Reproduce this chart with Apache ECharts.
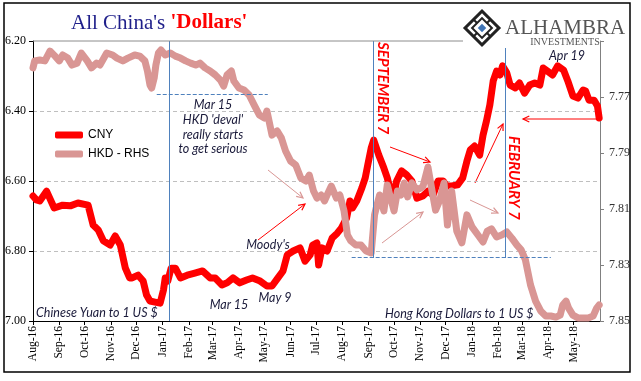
<!DOCTYPE html>
<html><head><meta charset="utf-8">
<script src="https://cdn.jsdelivr.net/npm/echarts@6/dist/echarts.min.js"></script>
<style>html,body{margin:0;padding:0;background:#fff}#c{width:641px;height:381px}</style>
</head><body><div id="c"></div>
<script>
const monthTicks = ['2016-08-01','2016-09-01','2016-10-01','2016-11-01','2016-12-01','2017-01-01','2017-02-01','2017-03-01','2017-04-01','2017-05-01','2017-06-01','2017-07-01','2017-08-01','2017-09-01','2017-10-01','2017-11-01','2017-12-01','2018-01-01','2018-02-01','2018-03-01','2018-04-01','2018-05-01'];
const monthNames = ['Jan','Feb','Mar','Apr','May','Jun','Jul','Aug','Sep','Oct','Nov','Dec'];

const cnyDates = ['2016-08-01','2016-08-05','2016-08-09','2016-08-17','2016-08-26','2016-09-05','2016-09-14','2016-09-23','2016-10-05','2016-10-11','2016-10-17','2016-10-23','2016-10-31','2016-11-06','2016-11-12','2016-11-18','2016-11-23','2016-11-26','2016-12-03','2016-12-09','2016-12-13','2016-12-17','2016-12-23','2016-12-29','2017-01-02','2017-01-04','2017-01-07','2017-01-11','2017-01-16','2017-01-22','2017-01-30','2017-02-08','2017-02-17','2017-02-26','2017-03-04','2017-03-12','2017-03-18','2017-03-25','2017-04-02','2017-04-10','2017-04-17','2017-04-26','2017-05-04','2017-05-10','2017-05-17','2017-05-23','2017-05-28','2017-06-04','2017-06-12','2017-06-18','2017-06-24','2017-06-27','2017-07-02','2017-07-04','2017-07-08','2017-07-14','2017-07-20','2017-07-26','2017-07-31','2017-08-06','2017-08-10','2017-08-13','2017-08-18','2017-08-24','2017-08-28','2017-08-31','2017-09-04','2017-09-07','2017-09-13','2017-09-19','2017-09-23','2017-09-28','2017-09-29','2017-10-04','2017-10-10','2017-10-16','2017-10-22','2017-10-28','2017-11-04','2017-11-10','2017-11-16','2017-11-22','2017-11-28','2017-12-02','2017-12-08','2017-12-15','2017-12-21','2017-12-26','2017-12-30','2018-01-04','2018-01-10','2018-01-14','2018-01-18','2018-01-22','2018-01-26','2018-01-30','2018-02-03','2018-02-06','2018-02-11','2018-02-15','2018-02-21','2018-02-26','2018-03-04','2018-03-10','2018-03-16','2018-03-22','2018-03-26','2018-03-31','2018-04-06','2018-04-12','2018-04-19','2018-04-24','2018-04-30','2018-05-06','2018-05-12','2018-05-15','2018-05-19','2018-05-25','2018-05-29','2018-05-31'];
const cnyValues = [6.643,6.654,6.657,6.629,6.677,6.669,6.671,6.663,6.669,6.726,6.74,6.771,6.783,6.757,6.783,6.849,6.877,6.877,6.869,6.886,6.926,6.943,6.946,6.949,6.911,6.877,6.886,6.849,6.849,6.877,6.869,6.863,6.857,6.877,6.877,6.897,6.891,6.877,6.891,6.883,6.877,6.886,6.90,6.90,6.877,6.857,6.811,6.80,6.791,6.829,6.811,6.783,6.777,6.84,6.791,6.80,6.763,6.749,6.734,6.706,6.657,6.677,6.657,6.62,6.591,6.554,6.506,6.483,6.526,6.563,6.591,6.64,6.657,6.60,6.571,6.583,6.60,6.649,6.643,6.629,6.64,6.60,6.60,6.614,6.614,6.611,6.591,6.543,6.511,6.50,6.526,6.469,6.429,6.383,6.314,6.286,6.297,6.271,6.291,6.326,6.334,6.32,6.349,6.326,6.32,6.326,6.277,6.286,6.297,6.271,6.283,6.314,6.357,6.363,6.34,6.343,6.369,6.369,6.386,6.42];

const hkdDates = ['2016-08-01','2016-08-03','2016-08-09','2016-08-15','2016-08-21','2016-08-27','2016-09-01','2016-09-05','2016-09-11','2016-09-16','2016-09-22','2016-09-27','2016-10-04','2016-10-09','2016-10-15','2016-10-19','2016-10-27','2016-11-03','2016-11-08','2016-11-15','2016-11-21','2016-11-29','2016-12-05','2016-12-11','2016-12-14','2016-12-17','2016-12-19','2016-12-22','2016-12-24','2016-12-27','2016-12-30','2017-01-04','2017-01-10','2017-01-16','2017-01-22','2017-01-28','2017-02-03','2017-02-09','2017-02-14','2017-02-20','2017-02-26','2017-03-04','2017-03-10','2017-03-14','2017-03-18','2017-03-23','2017-03-26','2017-04-01','2017-04-07','2017-04-13','2017-04-19','2017-04-25','2017-05-01','2017-05-04','2017-05-10','2017-05-16','2017-05-21','2017-05-26','2017-06-01','2017-06-07','2017-06-13','2017-06-19','2017-06-23','2017-06-28','2017-07-02','2017-07-07','2017-07-11','2017-07-14','2017-07-19','2017-07-25','2017-07-29','2017-08-03','2017-08-07','2017-08-11','2017-08-17','2017-08-23','2017-08-29','2017-09-04','2017-09-06','2017-09-08','2017-09-10','2017-09-14','2017-09-19','2017-09-23','2017-09-26','2017-10-01','2017-10-05','2017-10-09','2017-10-13','2017-10-17','2017-10-22','2017-10-28','2017-11-04','2017-11-10','2017-11-14','2017-11-19','2017-11-24','2017-11-29','2017-12-03','2017-12-08','2017-12-14','2017-12-20','2017-12-26','2018-01-01','2018-01-08','2018-01-14','2018-01-19','2018-01-24','2018-01-30','2018-02-05','2018-02-11','2018-02-17','2018-02-23','2018-02-28','2018-03-05','2018-03-11','2018-03-17','2018-03-23','2018-03-29','2018-04-04','2018-04-10','2018-04-15','2018-04-18','2018-04-22','2018-04-25','2018-04-30','2018-05-06','2018-05-12','2018-05-18','2018-05-24','2018-05-28','2018-05-31'];
const hkdValues = [7.7596,7.7571,7.7568,7.7571,7.7536,7.7554,7.7571,7.755,7.7561,7.7586,7.7579,7.7543,7.7571,7.7596,7.7579,7.7586,7.7543,7.755,7.7561,7.7571,7.7561,7.755,7.7554,7.7571,7.7607,7.7657,7.7668,7.7632,7.7586,7.7543,7.7532,7.755,7.7543,7.7554,7.7561,7.7571,7.7579,7.7586,7.7579,7.7596,7.7607,7.7621,7.7639,7.7661,7.7621,7.7607,7.7643,7.7668,7.7675,7.7693,7.7729,7.7764,7.7775,7.775,7.7836,7.7821,7.7846,7.7893,7.7929,7.7943,7.7989,7.80,7.7979,7.8036,7.8061,7.805,7.8071,7.805,7.8018,7.8061,7.805,7.8107,7.8193,7.8214,7.8229,7.8229,7.825,7.8257,7.825,7.8121,7.8096,7.805,7.8107,7.8014,7.805,7.8107,7.8036,7.805,7.8007,7.8057,7.8007,7.8032,7.8021,7.795,7.8021,7.8104,7.8068,7.8007,7.8157,7.8036,7.8179,7.8221,7.8121,7.8164,7.8193,7.8218,7.8179,7.8171,7.82,7.8193,7.8182,7.8204,7.8229,7.8246,7.8282,7.8371,7.8429,7.8464,7.8482,7.8482,7.8486,7.8479,7.8443,7.8429,7.8454,7.8479,7.8489,7.8489,7.8489,7.8482,7.8454,7.8443];

// reference lines
const eventDates = { jan: '2017-01-09', sep7: '2017-09-07', feb7: '2018-02-09' };
const hkdBands = [ ['2016-12-25','2017-05-05',7.769], ['2017-08-12','2018-04-04',7.8271] ];

function toTs(s){ return new Date(s + 'T00:00:00').getTime(); }

const chart = echarts.init(document.getElementById('c'), null, {renderer:'canvas'});

const NOTE = '#1A1A3A';
function txt(str, x, y, o){
  o = o || {};
  return { type:'text', x:x, y:y, z:100, silent:true, rotation:o.rot||0,
    style:{ text:str, fill:o.fill||NOTE, font:o.font||'italic 12.5px Lato', textAlign:o.align||'center', textVerticalAlign:'middle' } };
}
function arrow(x1,y1,x2,y2,color){
  const a = Math.atan2(y2-y1, x2-x1), L = 7, w = 0.45;
  return { type:'group', z:100, silent:true, children:[
    { type:'line', shape:{x1:x1,y1:y1,x2:x2,y2:y2}, style:{stroke:color, lineWidth:1} },
    { type:'polyline', shape:{points:[[x2-L*Math.cos(a-w), y2-L*Math.sin(a-w)],[x2,y2],[x2-L*Math.cos(a+w), y2-L*Math.sin(a+w)]]}, style:{stroke:color, lineWidth:1.2, fill:null} }
  ]};
}
const RED = '#FF0000', PINK = '#D99694';

const graphics = [
  { type:'rect', z:100, silent:true, shape:{x:4,y:3,width:626,height:369}, style:{fill:'none', stroke:'#000', lineWidth:1.5} },
  { type:'line', z:100, silent:true, shape:{x1:33,y1:41,x2:463,y2:41}, style:{stroke:'#8C8C8C', lineWidth:1} },
  { type:'text', z:100, x:71, y:23, silent:true, style:{ text:"{a|All China's }{b|'Dollars'}", textVerticalAlign:'middle',
      rich:{ a:{ fill:'#1F1F8A', font:'21px "Liberation Serif"' }, b:{ fill:'#FF0000', font:'bold 21px "Liberation Serif"' } } } },
  { type:'group', z:100, x:482, y:28, rotation:Math.PI/4, silent:true, children:[
      { type:'rect', shape:{x:-12,y:-12,width:24,height:24}, style:{fill:'none', stroke:'#222', lineWidth:3} },
      { type:'rect', shape:{x:-7,y:-7,width:14,height:14}, style:{fill:'none', stroke:'#222', lineWidth:2} },
      { type:'line', shape:{x1:-12,y1:0,x2:-7,y2:0}, style:{stroke:'#222', lineWidth:2} },
      { type:'line', shape:{x1:12,y1:0,x2:7,y2:0}, style:{stroke:'#222', lineWidth:2} },
      { type:'line', shape:{x1:0,y1:-12,x2:0,y2:-7}, style:{stroke:'#222', lineWidth:2} },
      { type:'line', shape:{x1:0,y1:12,x2:0,y2:7}, style:{stroke:'#222', lineWidth:2} },
      { type:'rect', shape:{x:-3,y:-3,width:6,height:6}, style:{fill:'#3F74B5'} }
  ]},
  txt('ALHAMBRA', 505, 28, {align:'left', fill:'#555', font:'21px "Liberation Serif"'}),
  txt('INVESTMENTS', 565, 42, {fill:'#555', font:'10px "Liberation Serif"'}),
  txt('Mar 15', 213, 105), txt("HKD 'deval'", 213, 120), txt('really starts', 213, 135), txt('to get serious', 213, 149),
  txt("Moody's", 268, 245), txt('Mar 15', 229, 305), txt('May 9', 275, 298),
  txt('Chinese Yuan to 1 US $', 36, 313, {align:'left'}),
  txt('Hong Kong Dollars to 1 US $', 385, 314, {align:'left'}),
  txt('Apr 19', 567, 56),
  txt('SEPTEMBER 7', 383, 42, {align:'left', rot:-Math.PI/2, fill:RED, font:'italic bold 15px Lato'}),
  txt('FEBRUARY 7', 514, 136, {align:'left', rot:-Math.PI/2, fill:RED, font:'italic bold 15px Lato'}),
  arrow(390,147,430,162,RED),
  arrow(268,170,303,198,PINK),
  arrow(258,240,305,204,RED),
  arrow(382,243,423,212,PINK),
  arrow(470,200,498,213,PINK),
  arrow(475,183,503,124,RED),
  arrow(600,119,523,119,RED)
];

const tickTs = monthTicks.map(toTs);
const option = {
  animation:false,
  backgroundColor:'#fff',
  grid:{ left:33, right:41, top:41, bottom:60, containLabel:false },
  legend:{ left:50, top:124, orient:'vertical', itemWidth:28, itemHeight:7, itemGap:7, icon:'roundRect',
    textStyle:{ fontFamily:'"Liberation Sans"', fontSize:12, color:'#000' }, data:['CNY','HKD - RHS'] },
  xAxis:{ type:'value', min:toTs('2016-08-01'), max:toTs('2018-06-01'), scale:true,
    axisLine:{ show:true, onZero:false, lineStyle:{ color:'#000', width:1 } },
    axisTick:{ show:true, length:4, lineStyle:{ color:'#000' }, customValues: tickTs },
    axisLabel:{ rotate:90, margin:5, fontFamily:'"Liberation Serif"', fontSize:11.5, color:'#000', hideOverlap:false,
      customValues: tickTs,
      formatter: v => { const d = new Date(v); return monthNames[d.getMonth()] + '-' + String(d.getFullYear()).slice(2); } },
    splitLine:{ show:false } },
  yAxis:[
    { type:'value', min:6.2, max:7.0, interval:0.2, inverse:true,
      axisLine:{ show:true, lineStyle:{ color:'#000' } },
      axisTick:{ show:true, length:4, lineStyle:{ color:'#000' } },
      axisLabel:{ margin:7, fontFamily:'"Liberation Serif"', fontSize:12, color:'#000', formatter: v => v.toFixed(2) },
      splitLine:{ show:true, showMinLine:false, showMaxLine:false, lineStyle:{ color:'#BFBFBF', type:[4,3], width:1 } } },
    { type:'value', min:7.75, max:7.85, interval:0.02, inverse:true, position:'right',
      axisLine:{ show:true, lineStyle:{ color:'#808080' } },
      axisTick:{ show:true, length:4, lineStyle:{ color:'#808080' } },
      axisLabel:{ margin:9, fontFamily:'"Liberation Sans Narrow","Liberation Serif"', fontSize:12, color:'#333',
        formatter: v => Math.abs(v-7.75) < 1e-6 ? '' : v.toFixed(2) },
      splitLine:{ show:false } }
  ],
  series:[
    { name:'CNY', type:'line', yAxisIndex:0, showSymbol:false, z:2,
      data: cnyDates.map((d,i) => [toTs(d), cnyValues[i]]),
      itemStyle:{ color:RED },
      lineStyle:{ color:RED, width:7, cap:'round', join:'round' },
      markLine:{ silent:true, symbol:'none', label:{show:false}, lineStyle:{ color:'#4F81BD', width:1, type:'solid' },
        data:[
          { xAxis: toTs(eventDates.jan) },
          [ { coord:[toTs(eventDates.sep7), 6.2] }, { coord:[toTs(eventDates.sep7), 6.82] } ],
          [ { coord:[toTs(eventDates.feb7), 6.22] }, { coord:[toTs(eventDates.feb7), 6.82] } ]
        ] } },
    { name:'HKD - RHS', type:'line', yAxisIndex:1, showSymbol:false, z:3,
      data: hkdDates.map((d,i) => [toTs(d), hkdValues[i]]),
      itemStyle:{ color:PINK },
      lineStyle:{ color:PINK, width:7, cap:'round', join:'round' },
      markLine:{ silent:true, symbol:'none', label:{show:false}, lineStyle:{ color:'#4F81BD', width:1, type:[4,2] },
        data: hkdBands.map(b => [ { coord:[toTs(b[0]), b[2]] }, { coord:[toTs(b[1]), b[2]] } ]) } }
  ],
  graphic: graphics
};
chart.setOption(option);
</script>
</body></html>
